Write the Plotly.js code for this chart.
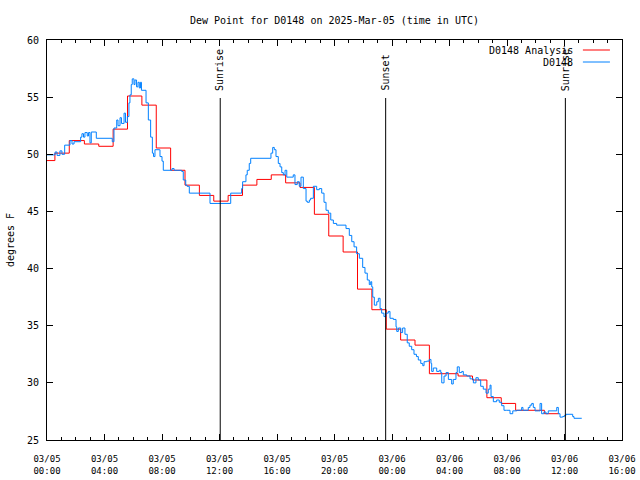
<!DOCTYPE html>
<html>
<head>
<meta charset="utf-8">
<script src="https://cdn.plot.ly/plotly-3.0.1.min.js"></script>
<style>html,body{margin:0;padding:0;background:#fff;}#chart{width:640px;height:480px;}</style>
</head>
<body>
<div id="chart"></div>
<script>
// Hours since 2025-03-05 00:00 UTC
const analysisHours = [0, 0.55, 1.55, 2.6, 3.6, 4.6, 5.6, 6.6, 7.6, 8.6, 9.6, 10.6, 11.6, 12.6, 13.6, 14.6, 15.6, 16.6, 17.6, 18.6, 19.6, 20.6, 21.6, 22.6, 23.6, 24.6, 25.6, 26.6, 28.6, 29.6, 30.6, 31.6, 32.6, 34.6, 35.6];
const analysisValues = [49.45, 50.1, 51.2, 50.9, 50.7, 52.2, 55.1, 54.3, 50.55, 48.6, 47.3, 46.4, 45.9, 46.4, 47.3, 47.8, 48.2, 47.5, 47.1, 44.75, 42.85, 41.45, 38.2, 36.4, 34.7, 33.75, 33.3, 30.8, 30.6, 30.25, 28.7, 28.2, 27.6, 27.3, 27.3];

const obsHours = [0, 0.56, 0.7, 0.9, 1.04, 1.23, 1.39, 1.6, 1.74, 1.88, 2.34, 2.43, 2.54, 2.64, 2.8, 2.89, 2.99, 3.08, 3.43, 4.54, 4.66, 4.85, 4.94, 5.08, 5.18, 5.36, 5.46, 5.59, 5.7, 5.77, 5.86, 5.93, 6.05, 6.12, 6.23, 6.33, 6.42, 6.5, 6.57, 6.89, 7.05, 7.21, 7.33, 7.41, 7.51, 7.81, 7.86, 8.0, 8.09, 8.7, 8.84, 9.37, 9.48, 9.65, 9.74, 9.9, 11.34, 12.78, 13.54, 13.61, 13.84, 13.93, 14.07, 14.17, 15.58, 15.7, 15.81, 15.93, 16.09, 16.21, 16.33, 16.44, 16.56, 16.68, 16.9, 17.13, 17.25, 17.41, 17.55, 17.67, 17.83, 18.02, 18.11, 18.25, 18.34, 18.53, 18.76, 18.94, 19.11, 19.27, 19.41, 19.57, 19.74, 19.92, 20.15, 20.8, 21.03, 21.2, 21.36, 21.54, 21.73, 21.96, 22.12, 22.28, 22.42, 22.52, 22.59, 22.66, 22.77, 22.94, 23.05, 23.17, 23.28, 23.44, 23.58, 23.74, 23.86, 24.09, 24.28, 24.33, 24.44, 24.61, 24.74, 24.9, 25.06, 25.2, 25.37, 25.53, 25.7, 25.83, 26.0, 26.14, 26.23, 26.41, 26.59, 26.71, 26.76, 26.87, 27.11, 27.29, 27.39, 27.46, 27.62, 27.76, 27.92, 28.15, 28.26, 28.45, 28.54, 28.68, 28.85, 28.96, 29.2, 29.43, 29.66, 29.84, 30.0, 30.17, 30.35, 30.54, 30.7, 30.82, 30.89, 31.05, 31.28, 31.46, 31.63, 31.79, 31.98, 32.21, 32.4, 32.68, 33.02, 33.11, 33.48, 33.6, 33.72, 33.83, 33.95, 34.18, 34.3, 34.41, 34.57, 34.71, 34.87, 35.41, 35.46, 35.57, 35.69, 35.87, 35.99, 36.1, 36.38, 36.57, 36.66, 37.2];
const obsValues = [49.95, 50.2, 49.9, 50.3, 50.0, 50.8, 50.8, 51.2, 50.9, 51.1, 51.5, 51.8, 51.5, 51.9, 51.6, 51.9, 51.0, 51.95, 51.4, 51.1, 52.3, 53.0, 52.5, 53.2, 52.7, 53.6, 52.8, 53.3, 54.5, 55.2, 56.1, 56.6, 56.1, 56.5, 55.9, 56.3, 55.8, 56.3, 55.6, 54.5, 53.0, 51.5, 50.1, 49.8, 50.4, 50.4, 49.8, 49.4, 48.6, 48.75, 48.6, 48.5, 47.75, 47.3, 47.2, 46.6, 45.7, 46.6, 47.0, 47.6, 48.2, 48.6, 49.2, 49.65, 50.1, 50.6, 50.4, 49.8, 49.2, 48.9, 48.4, 48.2, 48.6, 48.0, 48.0, 48.2, 47.35, 47.6, 47.2, 48.0, 47.0, 45.9, 45.8, 46.0, 46.15, 47.2, 46.9, 47.0, 46.6, 45.8, 45.1, 44.85, 44.25, 43.95, 43.8, 43.5, 42.9, 42.35, 41.9, 41.3, 40.9, 40.1, 39.6, 39.0, 38.6, 38.85, 38.4, 37.5, 36.8, 37.1, 37.4, 36.5, 36.1, 35.8, 36.1, 36.25, 35.65, 35.55, 34.9, 34.5, 34.8, 34.4, 34.8, 34.25, 33.5, 33.2, 32.9, 32.5, 32.3, 32.0, 31.7, 31.5, 31.85, 31.9, 32.05, 31.7, 31.0, 31.3, 31.0, 31.1, 30.9, 30.0, 30.6, 30.9, 30.3, 29.9, 30.3, 30.9, 31.4, 30.9, 31.0, 30.7, 30.6, 30.35, 30.0, 30.45, 30.25, 29.7, 29.45, 29.1, 29.45, 29.8, 28.8, 28.35, 28.5, 28.3, 28.0, 27.6, 27.6, 27.3, 27.55, 27.6, 27.85, 27.6, 27.85, 28.05, 28.2, 27.85, 27.55, 27.55, 28.2, 27.3, 27.45, 27.3, 27.55, 27.55, 27.85, 27.3, 27.0, 27.05, 27.15, 27.25, 27.25, 27.05, 26.9, 26.9];

const eventHours = [12.05, 23.56, 36.06];
const eventLabels = ['Sunrise', 'Sunset', 'Sunrise'];

const tickHours = [0, 4, 8, 12, 16, 20, 24, 28, 32, 36, 40];
const tickLabels = ['03/05<br>00:00', '03/05<br>04:00', '03/05<br>08:00', '03/05<br>12:00', '03/05<br>16:00', '03/05<br>20:00', '03/06<br>00:00', '03/06<br>04:00', '03/06<br>08:00', '03/06<br>12:00', '03/06<br>16:00'];
const yTicks = [25, 30, 35, 40, 45, 50, 55, 60];

const seriesNames = ['D0148 Analysis', 'D0148'];
const seriesColors = ['#ff0000', '#0080ff'];

const FONT = 'DejaVu Sans Mono, monospace';

const traces = [
  {x: analysisHours, y: analysisValues, type: 'scatter', mode: 'lines', name: seriesNames[0],
   line: {color: seriesColors[0], width: 1, shape: 'hv'}, showlegend: false},
  {x: obsHours, y: obsValues, type: 'scatter', mode: 'lines', name: seriesNames[1],
   line: {color: seriesColors[1], width: 1, shape: 'hv'}, showlegend: false}
];

const shapes = [];
const annotations = [];
eventHours.forEach((h, i) => {
  shapes.push({type: 'line', xref: 'x', yref: 'paper', x0: h, x1: h, y0: 0, y1: 0.855,
               line: {color: '#000', width: 1}, layer: 'above'});
  annotations.push({xref: 'x', yref: 'paper', x: h, y: 0.868, text: eventLabels[i], showarrow: false,
                    textangle: -90, font: {family: FONT, size: 10, color: '#000'},
                    xanchor: 'center', yanchor: 'bottom'});
});

// legend (text left, sample right)
const legY = [0.975, 0.945];
seriesNames.forEach((n, i) => {
  annotations.push({xref: 'paper', yref: 'paper', x: 0.919, y: legY[i], text: n, showarrow: false,
                    xanchor: 'right', yanchor: 'middle', font: {family: FONT, size: 10, color: '#000'}});
  shapes.push({type: 'line', xref: 'paper', yref: 'paper', x0: 0.932, x1: 0.979, y0: legY[i], y1: legY[i],
               line: {color: seriesColors[i], width: 1}});
});

const layout = {
  width: 640, height: 480,
  margin: {l: 47, r: 18, t: 40, b: 40},
  paper_bgcolor: '#fff', plot_bgcolor: '#fff',
  font: {family: FONT, size: 10, color: '#000'},
  title: {text: 'Dew Point for D0148 on 2025-Mar-05 (time in UTC)', x: 0.5, xref: 'paper',
          y: 0.958, yref: 'container', yanchor: 'middle', font: {family: FONT, size: 10, color: '#000'}},
  xaxis: {range: [0, 40], tickmode: 'array', tickvals: tickHours, ticktext: tickLabels,
          ticks: 'inside', ticklen: 6, tickcolor: '#000', showline: true, linecolor: '#000', linewidth: 1,
          mirror: 'ticks', showgrid: false, zeroline: false, tickfont: {family: FONT, size: 9},
          ticklabelstandoff: 10,
          minor: {dtick: 1, tick0: 0, ticks: 'inside', ticklen: 3, tickcolor: '#000', showgrid: false}},
  yaxis: {range: [25, 60], tickmode: 'array', tickvals: yTicks, ticks: 'inside', ticklen: 6, tickcolor: '#000',
          showline: true, linecolor: '#000', linewidth: 1, mirror: 'ticks', showgrid: false, zeroline: false,
          tickfont: {family: FONT, size: 10}, ticklabelstandoff: 5,
          title: {text: 'degrees F', font: {family: FONT, size: 10}, standoff: 10}},
  shapes: shapes,
  annotations: annotations
};

Plotly.newPlot('chart', traces, layout, {staticPlot: true, displayModeBar: false});
</script>
</body>
</html>
